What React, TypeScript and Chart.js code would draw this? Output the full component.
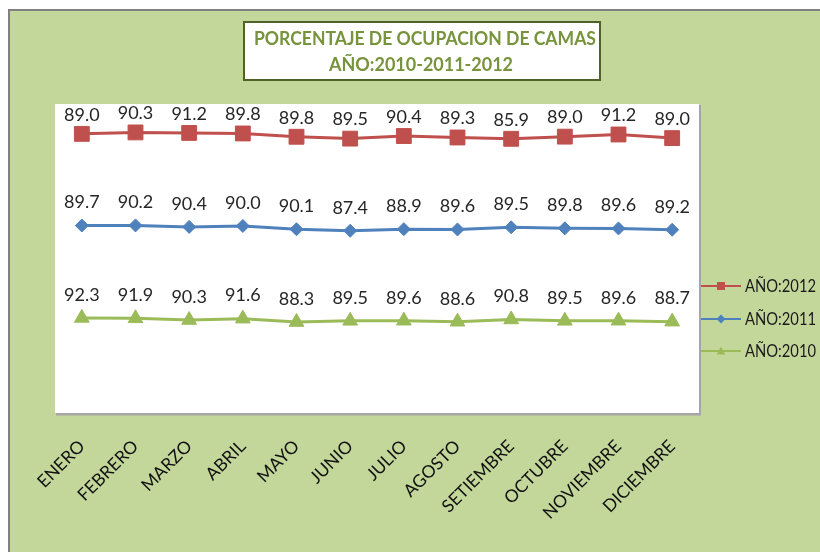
import React, { useEffect, useRef } from "react";
import { Chart, registerables } from "chart.js";

Chart.register(...registerables);

const months = [
  "ENERO", "FEBRERO", "MARZO", "ABRIL", "MAYO", "JUNIO",
  "JULIO", "AGOSTO", "SETIEMBRE", "OCTUBRE", "NOVIEMBRE", "DICIEMBRE",
];
const values2012 = [89.0, 90.3, 91.2, 89.8, 89.8, 89.5, 90.4, 89.3, 85.9, 89.0, 91.2, 89.0];
const values2011 = [89.7, 90.2, 90.4, 90.0, 90.1, 87.4, 88.9, 89.6, 89.5, 89.8, 89.6, 89.2];
const values2010 = [92.3, 91.9, 90.3, 91.6, 88.3, 89.5, 89.6, 88.6, 90.8, 89.5, 89.6, 88.7];
const seriesNames = ["AÑO:2010", "AÑO:2011", "AÑO:2012"];
const titleLines = ["PORCENTAJE DE OCUPACION DE CAMAS", "AÑO:2010-2011-2012"];

const W = 820;
const H = 552;
const FONT = "Lato, 'Open Sans', 'DejaVu Sans', sans-serif";
const RED = "#c0504d";
const BLUE = "#4f81bd";
const GREEN = "#9bbb59";

function drawMarker(ctx: CanvasRenderingContext2D, style: string, x: number, y: number, r: number) {
  ctx.beginPath();
  if (style === "rect") {
    ctx.rect(x - r, y - r, 2 * r, 2 * r);
  } else if (style === "rectRot") {
    ctx.moveTo(x - r, y);
    ctx.lineTo(x, y - r);
    ctx.lineTo(x + r, y);
    ctx.lineTo(x, y + r);
    ctx.closePath();
  } else {
    ctx.moveTo(x, y - r);
    ctx.lineTo(x + r * 0.95, y + r * 0.75);
    ctx.lineTo(x - r * 0.95, y + r * 0.75);
    ctx.closePath();
  }
  ctx.fill();
}

const backgroundPlugin = {
  id: "excelBackground",
  beforeDraw(chart: any) {
    const ctx: CanvasRenderingContext2D = chart.ctx;
    const { left, top, right, bottom } = chart.chartArea;
    ctx.save();
    ctx.fillStyle = "#ffffff";
    ctx.fillRect(0, 0, W, H);
    ctx.fillStyle = "#808080";
    ctx.fillRect(8, 9, W - 8, H - 9);
    ctx.fillStyle = "#c4d79b";
    ctx.fillRect(10, 11, W - 10, H - 11);
    // plot area with shadow
    ctx.fillStyle = "#a6a6a6";
    ctx.fillRect(left + 1, top + 1, right - left + 1, bottom - top + 1.5);
    ctx.fillStyle = "#ffffff";
    ctx.fillRect(left, top, right - left, bottom - top);
    // title box
    ctx.fillStyle = "#ffffff";
    ctx.fillRect(243, 21, 358, 60);
    ctx.strokeStyle = "#4f6228";
    ctx.lineWidth = 2;
    ctx.strokeRect(244, 22, 356, 58);
    ctx.fillStyle = "#77933c";
    ctx.textAlign = "center";
    ctx.textBaseline = "middle";
    ctx.font = `bold 19px ${FONT}`;
    ctx.fillText(titleLines[0], 425, 39, 342);
    ctx.fillText(titleLines[1], 421, 64.5, 184);
    ctx.restore();
  },
};

const labelsPlugin = {
  id: "valueLabels",
  afterDatasetsDraw(chart: any) {
    const ctx: CanvasRenderingContext2D = chart.ctx;
    ctx.save();
    ctx.font = `18px ${FONT}`;
    ctx.fillStyle = "#262626";
    ctx.textAlign = "center";
    ctx.textBaseline = "middle";
    chart.data.datasets.forEach((ds: any, i: number) => {
      const meta = chart.getDatasetMeta(i);
      meta.data.forEach((pt: any, j: number) => {
        ctx.fillText(Number(ds.data[j]).toFixed(1), pt.x, pt.y - ds.labelOffset);
      });
    });
    ctx.restore();
  },
};

const legendPlugin = {
  id: "sideLegend",
  afterDraw(chart: any) {
    const ctx: CanvasRenderingContext2D = chart.ctx;
    const ds = chart.data.datasets;
    const order = [2, 1, 0];
    const ys = [286, 319, 351];
    ctx.save();
    order.forEach((idx, k) => {
      const d = ds[idx];
      const y = ys[k];
      ctx.strokeStyle = d.borderColor;
      ctx.lineWidth = 2;
      ctx.beginPath();
      ctx.moveTo(701, y);
      ctx.lineTo(741, y);
      ctx.stroke();
      ctx.fillStyle = d.borderColor;
      drawMarker(ctx, d.pointStyle, 721, y, d.pointStyle === "rect" ? 4 : 4.5);
      ctx.fillStyle = "#1a1a1a";
      ctx.font = `16.5px ${FONT}`;
      ctx.textAlign = "left";
      ctx.textBaseline = "middle";
      ctx.fillText(d.label, 745, y + 1, 71);
    });
    ctx.restore();
  },
};

export default function App() {
  const canvasRef = useRef<HTMLCanvasElement | null>(null);

  useEffect(() => {
    if (!canvasRef.current) return;
    const chart = new Chart(canvasRef.current, {
      type: "line",
      data: {
        labels: months,
        datasets: [
          {
            label: seriesNames[0],
            data: values2010,
            borderColor: GREEN,
            backgroundColor: GREEN,
            borderWidth: 3,
            pointStyle: "triangle",
            pointRadius: 8.5,
            pointBorderWidth: 1,
            fill: false,
            labelOffset: 23,
          } as any,
          {
            label: seriesNames[1],
            data: values2011,
            borderColor: BLUE,
            backgroundColor: BLUE,
            borderWidth: 3,
            pointStyle: "rectRot",
            pointRadius: 6.5,
            pointBorderWidth: 1,
            fill: false,
            labelOffset: 23,
          } as any,
          {
            label: seriesNames[2],
            data: values2012,
            borderColor: RED,
            backgroundColor: RED,
            borderWidth: 3,
            pointStyle: "rect",
            pointRadius: 10.5,
            pointBorderWidth: 1,
            fill: false,
            labelOffset: 19,
          } as any,
        ],
      },
      options: {
        animation: false,
        responsive: false,
        devicePixelRatio: 1,
        layout: { padding: { left: 55, right: 121, top: 104, bottom: 0 } },
        plugins: {
          legend: { display: false },
          title: { display: false },
          tooltip: { enabled: false },
        },
        elements: { line: { tension: 0 } },
        scales: {
          x: {
            offset: true,
            grid: { display: false, drawTicks: false },
            border: { display: false },
            ticks: {
              autoSkip: false,
              maxRotation: 45,
              minRotation: 45,
              padding: 23,
              color: "#111111",
              font: { family: FONT, size: 17.5 },
            },
            afterFit: (scale: any) => {
              scale.height = 139;
            },
          },
          y: { display: false, stacked: true, min: 0, max: 300 },
        },
      },
      plugins: [backgroundPlugin, labelsPlugin, legendPlugin],
    });
    return () => chart.destroy();
  }, []);

  return (
    <div style={{ position: "fixed", left: 0, top: 0, width: W, height: H }}>
      <canvas ref={canvasRef} width={W} height={H} style={{ width: W, height: H, display: "block" }} />
    </div>
  );
}
